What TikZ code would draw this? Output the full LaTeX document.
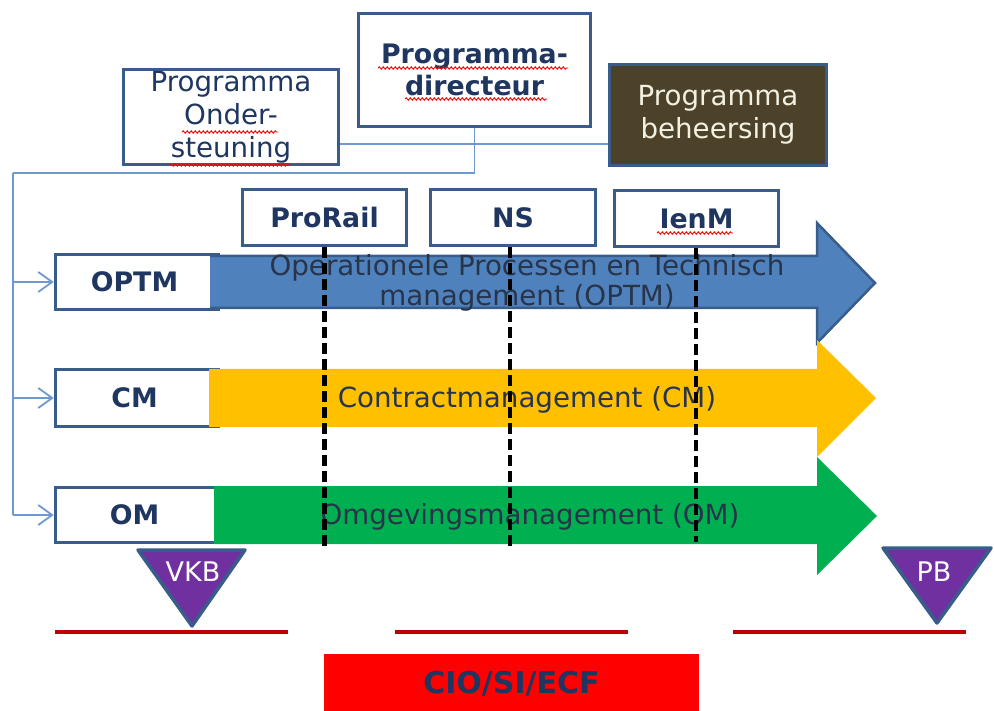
\documentclass[tikz,border=0pt]{standalone}
\usepackage{fontspec}
\setmainfont{DejaVu Sans}
\usetikzlibrary{arrows.meta,decorations.pathmorphing}
\definecolor{bord}{HTML}{385D8A}
\definecolor{navy}{HTML}{1F3760}
\definecolor{arrtxt}{HTML}{28344A}
\definecolor{conn}{HTML}{6F98D0}
\definecolor{brownbox}{HTML}{4B4229}
\definecolor{cream}{HTML}{F2F0E0}
\definecolor{blueA}{HTML}{4F81BD}
\definecolor{orangeA}{HTML}{FFC000}
\definecolor{greenA}{HTML}{00B050}
\definecolor{purp}{HTML}{7030A0}
\definecolor{darkred}{HTML}{C00000}
\tikzset{
  box/.style={draw=bord, line width=3.5pt, fill=white, align=center, inner sep=0pt,
    font=\fontsize{27.7}{33}\selectfont, text=navy},
  boldbox/.style={box, font=\fontsize{26.8}{32}\selectfont\bfseries},
  conline/.style={draw=conn, line width=1.8pt},
  conarrow/.style={conline, -{Straight Barb[length=14pt,width=20pt,line width=1.8pt]}},
  arrtext/.style={align=center, text=arrtxt, font=\fontsize{27.7}{30}\selectfont},
  dashline/.style={draw=black, line width=4.5pt, dash pattern=on 11pt off 5pt},
  tri/.style={fill=purp, draw=bord, line width=3.5pt, line join=round},
  tritext/.style={text=white, font=\fontsize{27}{30}\selectfont},
  redline/.style={draw=darkred, line width=4.5pt},
  spell/.style={draw=red, line width=0.9pt, decorate, decoration={snake, amplitude=1.2pt, segment length=4pt}}
}
\begin{document}
\begin{tikzpicture}[x=1pt,y=-1pt]
\useasboundingbox (0,0) rectangle (994,711);

% top boxes
\node[box, minimum width=215pt, minimum height=95pt] (ond) at (231,117) {Programma\\Onder-\\steuning};
\node[boldbox, minimum width=232pt, minimum height=113pt] (dir) at (474.5,70) {Programma-\\directeur};
\node[box, fill=brownbox, text=cream, minimum width=217pt, minimum height=101pt] (beh) at (718,115) {Programma\\beheersing};

% connectors
\coordinate (y144) at (0,144);
\coordinate (j) at (dir.south |- 0,173);
\coordinate (lft) at (13,173);
\draw[conline] (ond.east |- y144) -- (beh.west |- y144);
\draw[conline] (dir.south) -- (j) -- (lft);

% partner boxes
\node[boldbox, minimum width=164pt, minimum height=56pt] (prorail) at (324.5,217.5) {ProRail};
\node[boldbox, minimum width=165pt, minimum height=56pt] (ns) at (513,217.5) {NS};
\node[boldbox, minimum width=164pt, minimum height=56pt] (ienm) at (696.5,218.5) {IenM};

% stream label boxes
\node[boldbox, minimum width=163pt, minimum height=55pt] (optm) at (137,282) {\hspace*{-5pt}OPTM};
\node[boldbox, minimum width=163pt, minimum height=57pt] (cm) at (137,398) {\hspace*{-5pt}CM};
\node[boldbox, minimum width=163pt, minimum height=55pt] (om) at (137,515) {\hspace*{-5pt}OM};

\draw[conline] (lft) -- (lft |- om.west);
\draw[conarrow] (lft |- optm.west) -- (optm.west);
\draw[conarrow] (lft |- cm.west) -- (cm.west);
\draw[conarrow] (lft |- om.west) -- (om.west);

% big arrows
\draw[fill=blueA, draw=bord, line width=2.5pt, line join=miter]
  (210,256) -- (817,256) -- (817,223) -- (875,283) -- (817,343) -- (817,308) -- (210,308);
\fill[orangeA] (209,369) -- (817,369) -- (817,340) -- (876,398) -- (817,457) -- (817,427) -- (209,427) -- cycle;
\fill[greenA] (214,486) -- (817,486) -- (817,457) -- (877,516) -- (817,575) -- (817,544) -- (214,544) -- cycle;

\node[arrtext] (toptm) at (527,283) {Operationele Processen en Technisch\\management (OPTM)};
\node[arrtext] (tcm) at (527,400) {Contractmanagement (CM)};
\node[arrtext] (tom) at (530,517) {Omgevingsmanagement (OM)};

% dashed lines
\coordinate (d1) at (325,548);
\coordinate (d2) at (510,548);
\coordinate (d3) at (696,542);
\draw[dashline] (prorail.south) -- (prorail.south |- d1);
\draw[dashline] (ns.south -| d2) -- (d2);
\draw[dashline] (ienm.south -| d3) -- (d3);

% triangles
\draw[tri] (138,550) -- (245,550) -- (192,626) -- cycle;
\node[tritext] (vkb) at (193,572) {VKB};
\draw[tri] (883,548) -- (991,548) -- (937,623) -- cycle;
\node[tritext] (pb) at (934,572) {PB};

% red lines
\draw[redline] (55,632) -- (288,632);
\draw[redline] (395,632) -- (628,632);
\draw[redline] (733,632) -- (966,632);

% bottom box
\node[box, draw=none, fill=red, minimum width=375pt, minimum height=60pt,
  font=\fontsize{30}{32}\selectfont\bfseries] (cio) at (511.5,684) {CIO/SI/ECF};

% spell-check underlines
\draw[spell] (378,68) -- (568,68);
\draw[spell] (405,99) -- (547,99);
\draw[spell] (182,132) -- (278,132);
\draw[spell] (170,165) -- (290,165);
\draw[spell] (657,233) -- (733,233);
\end{tikzpicture}
\end{document}
